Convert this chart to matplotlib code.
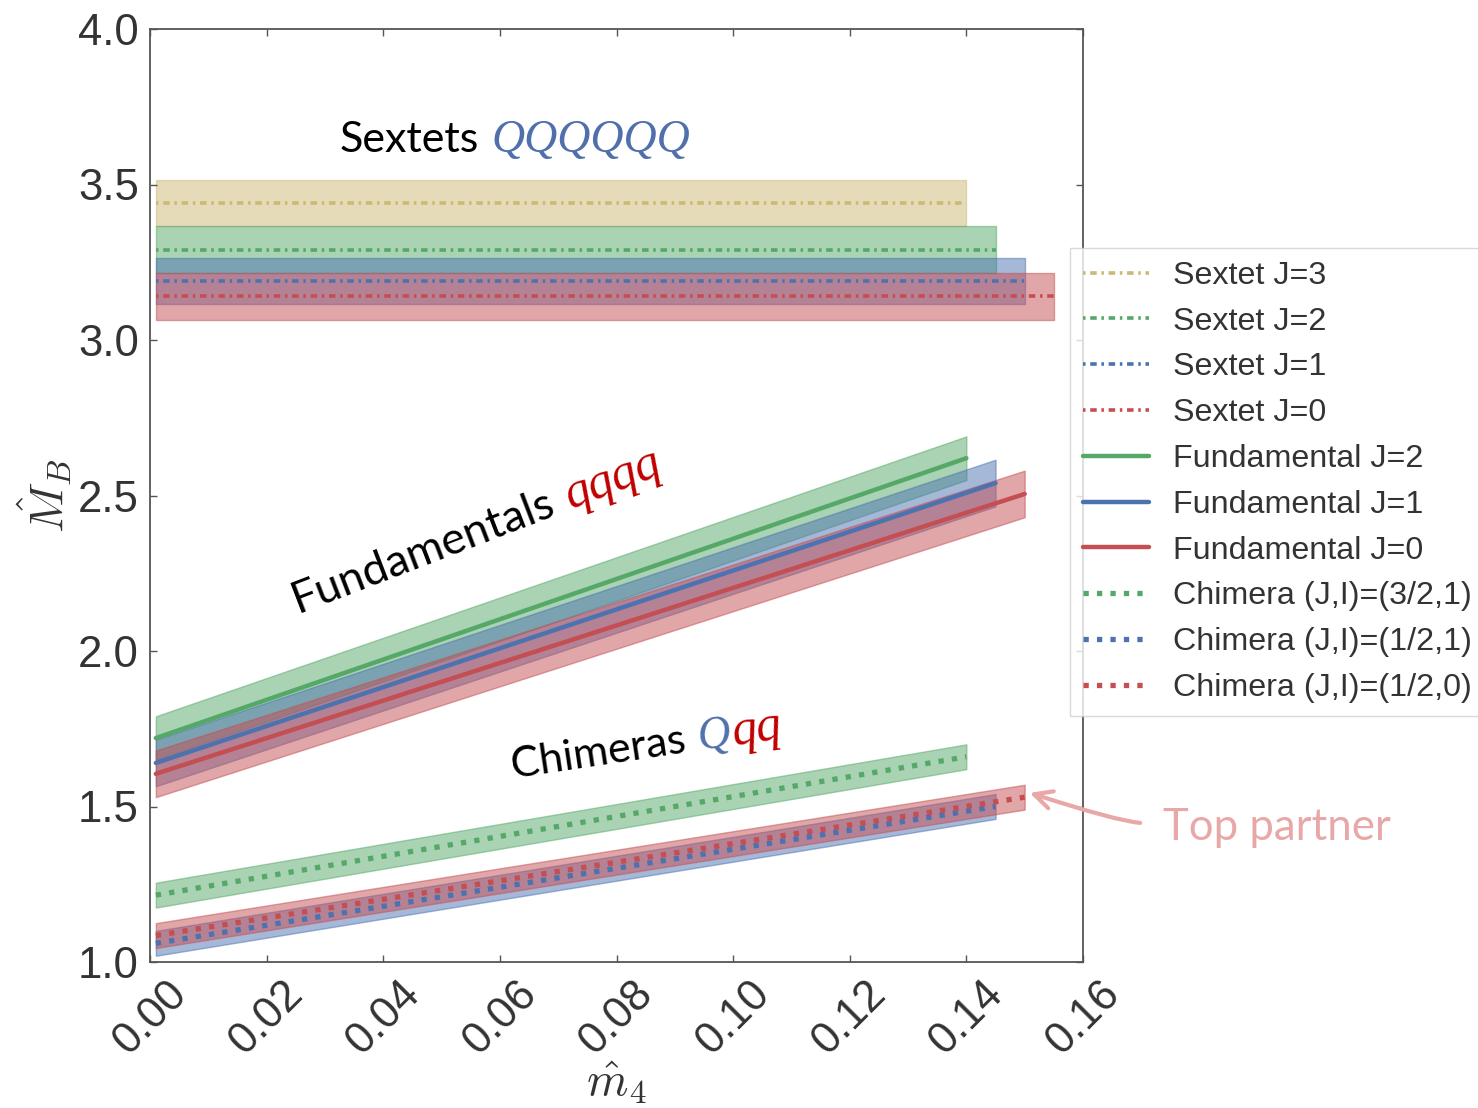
import numpy as np
import matplotlib
matplotlib.use('Agg')
import matplotlib.pyplot as plt

plt.rcParams['mathtext.fontset'] = 'cm'
plt.rcParams['font.family'] = ['Liberation Sans', 'DejaVu Sans']

# colours (seaborn "deep")
c_yel, c_grn, c_blu, c_red = '#CCB974', '#55A868', '#4C72B0', '#C44E52'

x0 = 0.001

# sextets: constant masses
sextet_labels = ['Sextet J=3', 'Sextet J=2', 'Sextet J=1', 'Sextet J=0']
sextet_mass = [3.44, 3.29, 3.19, 3.14]
sextet_err = [0.075, 0.075, 0.075, 0.075]
sextet_xmax = [0.140, 0.145, 0.150, 0.155]
sextet_cols = [c_yel, c_grn, c_blu, c_red]

# fundamentals: mass at x0 and at xmax
fund_labels = ['Fundamental J=2', 'Fundamental J=1', 'Fundamental J=0']
fund_start = [1.72, 1.64, 1.605]
fund_end = [2.62, 2.54, 2.505]
fund_err = [0.07, 0.075, 0.075]
fund_xmax = [0.140, 0.145, 0.150]
fund_cols = [c_grn, c_blu, c_red]

# chimeras
chim_labels = ['Chimera (J,I)=(3/2,1)', 'Chimera (J,I)=(1/2,1)', 'Chimera (J,I)=(1/2,0)']
chim_start = [1.215, 1.06, 1.085]
chim_end = [1.66, 1.50, 1.53]
chim_err = [0.04, 0.04, 0.04]
chim_xmax = [0.140, 0.145, 0.150]
chim_cols = [c_grn, c_blu, c_red]

W, H = 1478, 1108
fig = plt.figure(figsize=(W / 100, H / 100), dpi=100)
ax = fig.add_axes([150 / W, 1 - 962 / H, (1083 - 150) / W, (962 - 29) / H])

handles = []
for lab, m, e, xm, c in zip(sextet_labels, sextet_mass, sextet_err, sextet_xmax, sextet_cols):
    xs = np.array([x0, xm])
    ys = np.array([m, m])
    ax.fill_between(xs, ys - e, ys + e, color=c, alpha=0.5, lw=1)
    h, = ax.plot(xs, ys, color=c, lw=2.6, ls=(0, (0.7, 1.3, 1.8, 1.3)), label=lab)
    handles.append(h)

for lab, m0, m1, e, xm, c in zip(fund_labels, fund_start, fund_end, fund_err, fund_xmax, fund_cols):
    xs = np.array([x0, xm])
    ys = np.array([m0, m1])
    ax.fill_between(xs, ys - e, ys + e, color=c, alpha=0.5, lw=1)
    h, = ax.plot(xs, ys, color=c, lw=3.2, solid_capstyle='round', label=lab)
    handles.append(h)

for lab, m0, m1, e, xm, c in zip(chim_labels, chim_start, chim_end, chim_err, chim_xmax, chim_cols):
    xs = np.array([x0, xm])
    ys = np.array([m0, m1])
    ax.fill_between(xs, ys - e, ys + e, color=c, alpha=0.5, lw=1)
    h, = ax.plot(xs, ys, color=c, lw=3.8, ls=(0, (1, 1.55)), label=lab)
    handles.append(h)

ax.set_xlim(0, 0.16)
ax.set_ylim(1.0, 4.0)
ax.set_xticks(np.arange(0, 0.161, 0.02))
ax.set_yticks(np.arange(1.0, 4.01, 0.5))
ax.set_xticklabels(['%.2f' % v for v in np.arange(0, 0.161, 0.02)], rotation=45, ha='center')
ax.tick_params(direction='in', length=5, width=1, colors='#555555', labelcolor='#333333',
               labelsize=31.5, top=True, right=True, pad=8)
for sp in ax.spines.values():
    sp.set_color('#555555')
    sp.set_linewidth(1.3)

ax.set_ylabel(r'$\hat{M}_B$', fontsize=34, color='#333333')
ax.yaxis.set_label_coords(-0.083, 0.5)
ax.set_xlabel(r'$\hat{m}_4$', fontsize=34, color='#333333')
ax.xaxis.set_label_coords(0.5, -0.105)

fig.legend(handles=handles, loc='upper left', bbox_to_anchor=(1070 / W, 1 - 248 / H),
           fontsize=23.2, frameon=True, fancybox=False, edgecolor='#d0d0d0',
           handlelength=2.05, handletextpad=0.75, labelspacing=0.49, borderpad=0.4,
           borderaxespad=0, labelcolor='#333333')


def rich_text(px, py, parts, angle):
    r = fig.canvas.get_renderer()
    ca, sa = np.cos(np.radians(angle)), np.sin(np.radians(angle))
    x, y = px, H - py
    for txt, gap, kw in parts:
        fig.text(x / W, y / H, txt, rotation=angle, rotation_mode='anchor',
                 ha='left', va='baseline', **kw)
        m = fig.text(0, 0, txt, **kw)
        w = m.get_window_extent(r).width + gap
        m.remove()
        x += w * ca
        y += w * sa


sans = dict(family='Lato', fontsize=31, color='black')
sans_big = dict(family='Lato', fontsize=32.5, color='black')
qblue = dict(family='Liberation Serif', style='italic', fontsize=33, color='#4F70AA')
qred = dict(family='Liberation Serif', style='italic', fontsize=36, color='#C00000')

rich_text(340, 152, [('Sextets', 12, sans), ('QQQQQQ', 0, qblue)], 0)
rich_text(298, 613, [('Fundamentals', 14, sans_big), ('qqqq', 0, qred)], 21)
rich_text(513, 778, [('Chimeras', 12, sans), ('Q', 2, qblue), ('qq', 0, qred)], 8.5)

pink = '#E8A8A8'
fig.text(1163 / W, 1 - 840 / H, 'Top partner', family='Lato', fontsize=31.5, color=pink,
         ha='left', va='baseline')
ax.annotate('', xy=(1027, H - 792), xycoords='figure pixels',
            xytext=(1143, H - 823), textcoords='figure pixels',
            arrowprops=dict(arrowstyle='->', color=pink, lw=3, mutation_scale=32,
                            connectionstyle='angle3,angleA=0,angleB=-18'),
            annotation_clip=False)

fig.savefig('out.png', dpi=100)
